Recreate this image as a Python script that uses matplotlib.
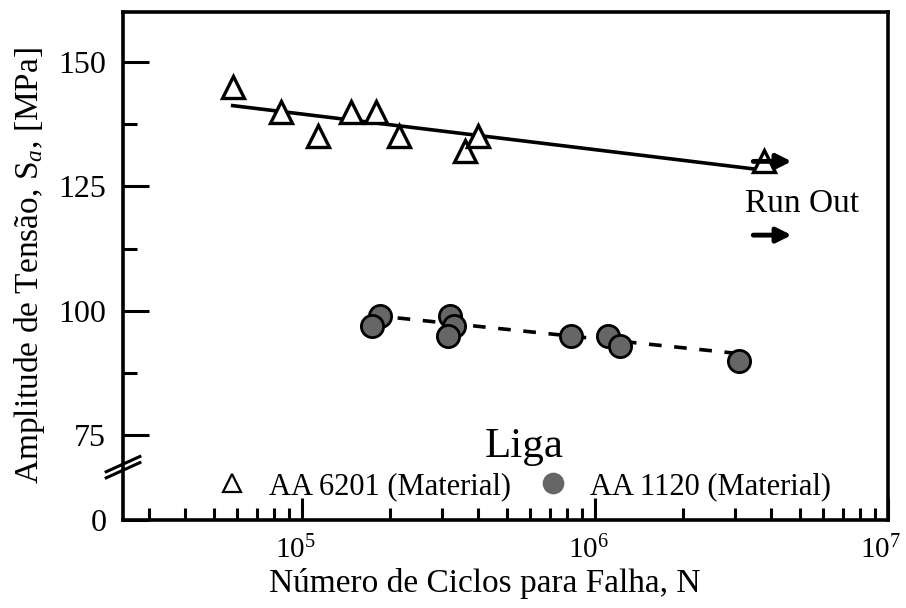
import matplotlib
matplotlib.use('Agg')
import matplotlib.pyplot as plt
from matplotlib.ticker import FixedLocator, LogLocator, NullFormatter
from matplotlib.transforms import ScaledTranslation
from matplotlib.legend_handler import HandlerLine2D
import numpy as np

plt.rcParams['font.family'] = 'Liberation Serif'
plt.rcParams['mathtext.fontset'] = 'custom'
plt.rcParams['mathtext.rm'] = 'Liberation Serif'
plt.rcParams['mathtext.it'] = 'Liberation Serif:italic'

# AA 6201 - cycles to failure and stress amplitude (last point is a run out)
n_6201 = [5.8e4, 8.5e4, 1.13e5, 1.47e5, 1.79e5, 2.15e5, 3.59e5, 4.0e5, 3.76e6]
sa_6201 = [145, 140, 135, 140, 140, 135, 132, 135, 130]
# AA 1120
n_1120 = [1.85e5, 1.74e5, 3.21e5, 3.29e5, 3.16e5, 8.28e5, 1.11e6, 1.22e6, 3.11e6]
sa_1120 = [99, 97, 99, 97, 95, 95, 95, 93, 90]
# fitted lines (end points)
fit_6201_n = [5.8e4, 3.7e6]
fit_6201_sa = [141.2, 128.3]
fit_1120_n = [1.74e5, 3.11e6]
fit_1120_sa = [99.1, 91.4]
# run out arrows
runout_n = [3.47e6, 4.69e6]
runout_sa = [130, 115.2]

x_ticks = [1e5, 1e6, 1e7]
x_ticklabels = ['$10^{5}$', '$10^{6}$', '$10^{7}$']
y_ticks = [0, 75, 100, 125, 150]
y_ticklabels = ['0', '75', '100', '125', '150']

# broken y axis: everything below 75 is squeezed so that 0 sits just under it
def fwd(y):
    y = np.asarray(y, dtype=float)
    return np.where(y >= 75, y, 58 + y * 17 / 75)

def inv(v):
    v = np.asarray(v, dtype=float)
    return np.where(v >= 75, v, (v - 58) * 75 / 17)

fig = plt.figure(figsize=(9.06, 6.08), dpi=100)
ax = fig.add_axes([0.1358, 0.1447, 0.8443, 0.8356])
ax.set_yscale('function', functions=(fwd, inv))
ax.set_xscale('log')

ax.plot(fit_6201_n, fit_6201_sa, color='black', lw=2.6, zorder=2)
ax.plot(fit_1120_n, fit_1120_sa, color='black', lw=2.6, ls=(0, (3.5, 3.5)), zorder=2)
tri, = ax.plot(n_6201, sa_6201, ls='none', marker='^', ms=16, mfc='white', mec='black', mew=2.4,
               zorder=3, label='AA 6201 (Material)')
circ, = ax.plot(n_1120, sa_1120, ls='none', marker='o', ms=16, mfc='#666666', mec='black', mew=2,
                zorder=3, label='AA 1120 (Material)')

for y in runout_sa:
    ax.annotate('', xy=(runout_n[1], y), xytext=(runout_n[0], y),
                arrowprops=dict(arrowstyle='-|>', color='black', lw=3.5, mutation_scale=22,
                                shrinkA=0, shrinkB=0), zorder=4)
ax.text(3.24e6, 121.4, 'Run Out', fontsize=24, ha='left', va='center')

ax.set_xlim(2.45e4, 1e7)
ax.set_ylim(0, 160)
ax.set_yticks(y_ticks)
ax.set_yticklabels(y_ticklabels)
ax.yaxis.set_minor_locator(FixedLocator([87.5, 112.5, 137.5]))
ax.set_xticks(x_ticks)
ax.set_xticklabels(x_ticklabels)
ax.xaxis.set_minor_locator(LogLocator(base=10, subs=np.arange(2, 10), numticks=20))
ax.xaxis.set_minor_formatter(NullFormatter())

ax.tick_params(axis='both', which='both', direction='in', width=2.2, labelsize=23,
               top=False, right=False)
ax.tick_params(axis='x', labelsize=21)
ax.tick_params(axis='y', which='major', length=19, pad=12)
ax.tick_params(axis='y', which='minor', length=10)
ax.tick_params(axis='x', which='major', length=16, pad=11)
ax.tick_params(axis='x', which='minor', length=9)
for s in ax.spines.values():
    s.set_linewidth(2.6)

# nudge the x tick labels so the "10" ends on the tick
shift = ScaledTranslation(-7 / 100, 0, fig.dpi_scale_trans)
for lab in ax.get_xticklabels():
    lab.set_transform(lab.get_transform() + shift)

# break marks on the left spine
for dy in (0.0, 0.012):
    ax.plot([-0.022, 0.022], [0.083 + dy, 0.113 + dy], transform=ax.transAxes,
            color='black', lw=2.2, clip_on=False, zorder=5)

ax.set_xlabel('Número de Ciclos para Falha, N', fontsize=24)
ax.xaxis.set_label_coords(0.473, -0.094)
ax.set_ylabel('Amplitude de Tensão, S$_{a}$, [MPa]', fontsize=24, labelpad=8)

# legend markers are lighter than the data markers
def thin_tri(handle, orig):
    handle.update_from(orig)
    handle.set_markeredgewidth(1.6)

def flat_circ(handle, orig):
    handle.update_from(orig)
    handle.set_markeredgecolor('#666666')

leg = ax.legend(loc='lower center', bbox_to_anchor=(0.524, -0.005), ncol=2, frameon=False,
                title='Liga', title_fontsize=31, fontsize=22, markerscale=0.85,
                handlelength=1.0, handletextpad=0.7, columnspacing=0.9, borderpad=0.2,
                labelspacing=0.2,
                handler_map={tri: HandlerLine2D(update_func=thin_tri),
                             circ: HandlerLine2D(update_func=flat_circ)})

fig.savefig('out.png', dpi=100)
